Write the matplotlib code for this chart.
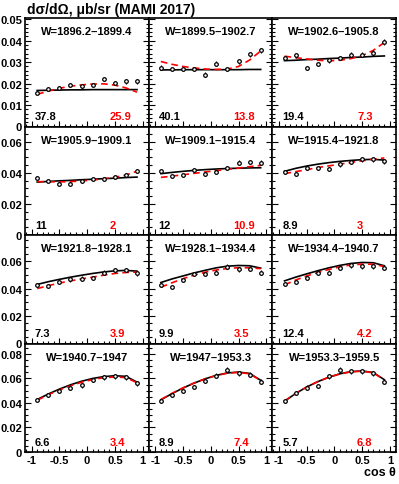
import matplotlib
matplotlib.use("Agg")
import matplotlib.pyplot as plt
from matplotlib.ticker import MultipleLocator, FuncFormatter

plt.rcParams['font.family'] = ['Liberation Sans', 'DejaVu Sans']
plt.rcParams['axes.unicode_minus'] = False

# DATA
cos_pts = [-0.9, -0.7, -0.5, -0.3, -0.1, 0.1, 0.3, 0.5, 0.7, 0.9]

w_bins = ["1896.2\u20131899.4", "1899.5\u20131902.7", "1902.6\u20131905.8",
          "1905.9\u20131909.1", "1909.1\u20131915.4", "1915.4\u20131921.8",
          "1921.8\u20131928.1", "1928.1\u20131934.4", "1934.4\u20131940.7",
          "1940.7\u20131947", "1947\u20131953.3", "1953.3\u20131959.5"]

chi2_black = ["37.8", "40.1", "19.4", "11", "12", "8.9",
              "7.3", "9.9", "12.4", "6.6", "8.9", "5.7"]
chi2_red = ["25.9", "13.8", "7.3", "2", "10.9", "3",
            "3.9", "3.5", "4.2", "3.4", "7.4", "6.8"]

dsig = [
    [0.0158, 0.0177, 0.0180, 0.0195, 0.0189, 0.0195, 0.0220, 0.0203, 0.0210, 0.0210],
    [0.0275, 0.0267, 0.0267, 0.0267, 0.0242, 0.0293, 0.0267, 0.0304, 0.0336, 0.0355],
    [0.0320, 0.0332, 0.0274, 0.0293, 0.0308, 0.0320, 0.0335, 0.0335, 0.0343, 0.0394],
    [0.0368, 0.0350, 0.0329, 0.0329, 0.0344, 0.0357, 0.0361, 0.0372, 0.0383, 0.0411],
    [0.0409, 0.0376, 0.0383, 0.0415, 0.0394, 0.0404, 0.0430, 0.0465, 0.0469, 0.0465],
    [0.0404, 0.0394, 0.0432, 0.0430, 0.0426, 0.0454, 0.0469, 0.0486, 0.0486, 0.0475],
    [0.0424, 0.0417, 0.0449, 0.0466, 0.0473, 0.0478, 0.0515, 0.0532, 0.0534, 0.0510],
    [0.0429, 0.0410, 0.0461, 0.0507, 0.0507, 0.0515, 0.0559, 0.0539, 0.0544, 0.0515],
    [0.0436, 0.0446, 0.0478, 0.0515, 0.0515, 0.0551, 0.0571, 0.0564, 0.0564, 0.0551],
    [0.0428, 0.0464, 0.0497, 0.0525, 0.0544, 0.0586, 0.0608, 0.0617, 0.0608, 0.0561],
    [0.0419, 0.0461, 0.0497, 0.0531, 0.0581, 0.0622, 0.0669, 0.0642, 0.0631, 0.0575],
    [0.0414, 0.0483, 0.0525, 0.0539, 0.0617, 0.0669, 0.0658, 0.0658, 0.0642, 0.0575],
]

dsig_err = [
    [0.0008, 0.0008, 0.0008, 0.0009, 0.0009, 0.0009, 0.0010, 0.0010, 0.0010, 0.0010],
    [0.0010, 0.0010, 0.0010, 0.0010, 0.0010, 0.0011, 0.0010, 0.0011, 0.0012, 0.0013],
    [0.0011, 0.0011, 0.0010, 0.0010, 0.0011, 0.0011, 0.0011, 0.0011, 0.0012, 0.0016],
    [0.0012, 0.0012, 0.0011, 0.0011, 0.0012, 0.0012, 0.0012, 0.0012, 0.0013, 0.0014],
    [0.0013, 0.0012, 0.0012, 0.0013, 0.0012, 0.0013, 0.0014, 0.0015, 0.0015, 0.0015],
    [0.0013, 0.0013, 0.0014, 0.0014, 0.0014, 0.0015, 0.0015, 0.0016, 0.0016, 0.0016],
    [0.0014, 0.0014, 0.0015, 0.0015, 0.0015, 0.0016, 0.0017, 0.0017, 0.0017, 0.0017],
    [0.0014, 0.0014, 0.0015, 0.0016, 0.0016, 0.0017, 0.0018, 0.0018, 0.0018, 0.0017],
    [0.0015, 0.0015, 0.0016, 0.0017, 0.0017, 0.0018, 0.0018, 0.0018, 0.0018, 0.0018],
    [0.0015, 0.0016, 0.0017, 0.0018, 0.0018, 0.0019, 0.0020, 0.0020, 0.0020, 0.0019],
    [0.0015, 0.0016, 0.0017, 0.0018, 0.0019, 0.0020, 0.0021, 0.0021, 0.0021, 0.0019],
    [0.0015, 0.0017, 0.0018, 0.0018, 0.0020, 0.0021, 0.0021, 0.0021, 0.0021, 0.0019],
]

fit_black = [
    [0.0168, 0.0169, 0.0170, 0.0171, 0.0171, 0.0172, 0.0172, 0.0172, 0.0172, 0.0172],
    [0.0264, 0.0264, 0.0265, 0.0265, 0.0265, 0.0265, 0.0265, 0.0265, 0.0266, 0.0266],
    [0.0307, 0.0309, 0.0312, 0.0314, 0.0317, 0.0319, 0.0322, 0.0324, 0.0327, 0.0329],
    [0.0340, 0.0344, 0.0348, 0.0351, 0.0355, 0.0358, 0.0362, 0.0365, 0.0369, 0.0372],
    [0.0394, 0.0402, 0.0409, 0.0415, 0.0420, 0.0424, 0.0427, 0.0429, 0.0431, 0.0432],
    [0.0409, 0.0428, 0.0443, 0.0455, 0.0465, 0.0473, 0.0479, 0.0484, 0.0486, 0.0481],
    [0.0430, 0.0450, 0.0467, 0.0483, 0.0497, 0.0510, 0.0521, 0.0529, 0.0532, 0.0527],
    [0.0444, 0.0470, 0.0492, 0.0514, 0.0533, 0.0551, 0.0563, 0.0568, 0.0566, 0.0549],
    [0.0456, 0.0483, 0.0507, 0.0530, 0.0551, 0.0569, 0.0583, 0.0590, 0.0588, 0.0566],
    [0.0428, 0.0473, 0.0513, 0.0548, 0.0577, 0.0600, 0.0615, 0.0622, 0.0617, 0.0570],
    [0.0425, 0.0476, 0.0522, 0.0562, 0.0597, 0.0625, 0.0645, 0.0652, 0.0641, 0.0585],
    [0.0414, 0.0477, 0.0530, 0.0574, 0.0610, 0.0638, 0.0656, 0.0661, 0.0648, 0.0590],
]

fit_red = [
    [0.0150, 0.0165, 0.0178, 0.0188, 0.0194, 0.0198, 0.0199, 0.0193, 0.0180, 0.0160],
    [0.0303, 0.0290, 0.0280, 0.0273, 0.0268, 0.0266, 0.0268, 0.0280, 0.0310, 0.0352],
    [0.0328, 0.0321, 0.0315, 0.0309, 0.0306, 0.0309, 0.0317, 0.0330, 0.0355, 0.0392],
    [0.0343, 0.0342, 0.0341, 0.0343, 0.0347, 0.0353, 0.0361, 0.0371, 0.0385, 0.0410],
    [0.0370, 0.0378, 0.0387, 0.0396, 0.0405, 0.0413, 0.0422, 0.0430, 0.0439, 0.0447],
    [0.0394, 0.0407, 0.0420, 0.0433, 0.0444, 0.0455, 0.0466, 0.0477, 0.0487, 0.0495],
    [0.0400, 0.0421, 0.0440, 0.0456, 0.0470, 0.0483, 0.0498, 0.0510, 0.0517, 0.0520],
    [0.0410, 0.0442, 0.0472, 0.0498, 0.0519, 0.0535, 0.0546, 0.0552, 0.0551, 0.0545],
    [0.0427, 0.0462, 0.0492, 0.0517, 0.0539, 0.0558, 0.0572, 0.0578, 0.0577, 0.0560],
    [0.0422, 0.0467, 0.0506, 0.0540, 0.0569, 0.0591, 0.0606, 0.0612, 0.0607, 0.0565],
    [0.0428, 0.0478, 0.0523, 0.0563, 0.0597, 0.0624, 0.0643, 0.0649, 0.0638, 0.0583],
    [0.0416, 0.0478, 0.0530, 0.0574, 0.0610, 0.0637, 0.0654, 0.0659, 0.0646, 0.0588],
]

row_ymax = [0.0506, 0.0697, 0.079, 0.0885]
row_major = [0.01, 0.02, 0.02, 0.02]
row_minor = [0.002, 0.005, 0.005, 0.005]


def fmt_tick(v, pos):
    return f"{round(v, 4):g}"


fig, axes = plt.subplots(4, 3, figsize=(3.99, 4.85), dpi=100)
fig.subplots_adjust(left=25 / 399, right=396 / 399, top=1 - 19 / 485,
                    bottom=1 - 453 / 485, wspace=0, hspace=0)

for i, ax in enumerate(axes.flatten()):
    row, col = divmod(i, 3)
    ax.plot(cos_pts, fit_black[i], '-', color='black', lw=1.2, zorder=2)
    ax.plot(cos_pts, fit_red[i], '--', color='red', lw=1.2, dashes=(4, 2.5), zorder=3)
    ax.errorbar(cos_pts, dsig[i], yerr=dsig_err[i], fmt='o', ms=2.6,
                mfc='white', mec='black', mew=0.9, ecolor='black',
                elinewidth=0.8, capsize=0, zorder=4)

    ax.set_xlim(-1.12, 1.11)
    ax.set_ylim(0, row_ymax[row])
    ax.xaxis.set_major_locator(MultipleLocator(0.5))
    ax.xaxis.set_minor_locator(MultipleLocator(0.1))
    ax.yaxis.set_major_locator(MultipleLocator(row_major[row]))
    ax.yaxis.set_minor_locator(MultipleLocator(row_minor[row]))
    ax.xaxis.set_major_formatter(FuncFormatter(fmt_tick))
    ax.yaxis.set_major_formatter(FuncFormatter(fmt_tick))
    ax.tick_params(which='both', direction='in', left=True, right=True,
                   top=False, bottom=True, width=0.8)
    ax.tick_params(which='major', length=4)
    ax.tick_params(which='minor', length=2)
    ax.tick_params(axis='both', labelsize=8, pad=2)
    for lab in ax.get_xticklabels() + ax.get_yticklabels():
        lab.set_fontweight('bold')
    if col != 0:
        ax.set_yticklabels([])
    if row != 3:
        ax.set_xticklabels([])
    for sp in ax.spines.values():
        sp.set_linewidth(1.2)

    ax.text(0.5, 0.88, "W=" + w_bins[i], transform=ax.transAxes, ha='center',
            va='center', fontsize=8, fontweight='bold')
    ax.text(0.08, 0.095, chi2_black[i], transform=ax.transAxes, ha='left',
            va='center', fontsize=8, fontweight='bold', color='black')
    ax.text(0.685, 0.095, chi2_red[i], transform=ax.transAxes, ha='left',
            va='center', fontsize=8, fontweight='bold', color='red')

fig.text(27 / 399, 1 - 10 / 485, "d\u03c3/d\u03a9, \u03bcb/sr (MAMI 2017)",
         ha='left', va='center', fontsize=10, fontweight='bold')
fig.text(396 / 399, 1 - 473 / 485, "cos \u03b8", ha='right', va='center',
         fontsize=9, fontweight='bold')

fig.savefig("out.png", dpi=100)
